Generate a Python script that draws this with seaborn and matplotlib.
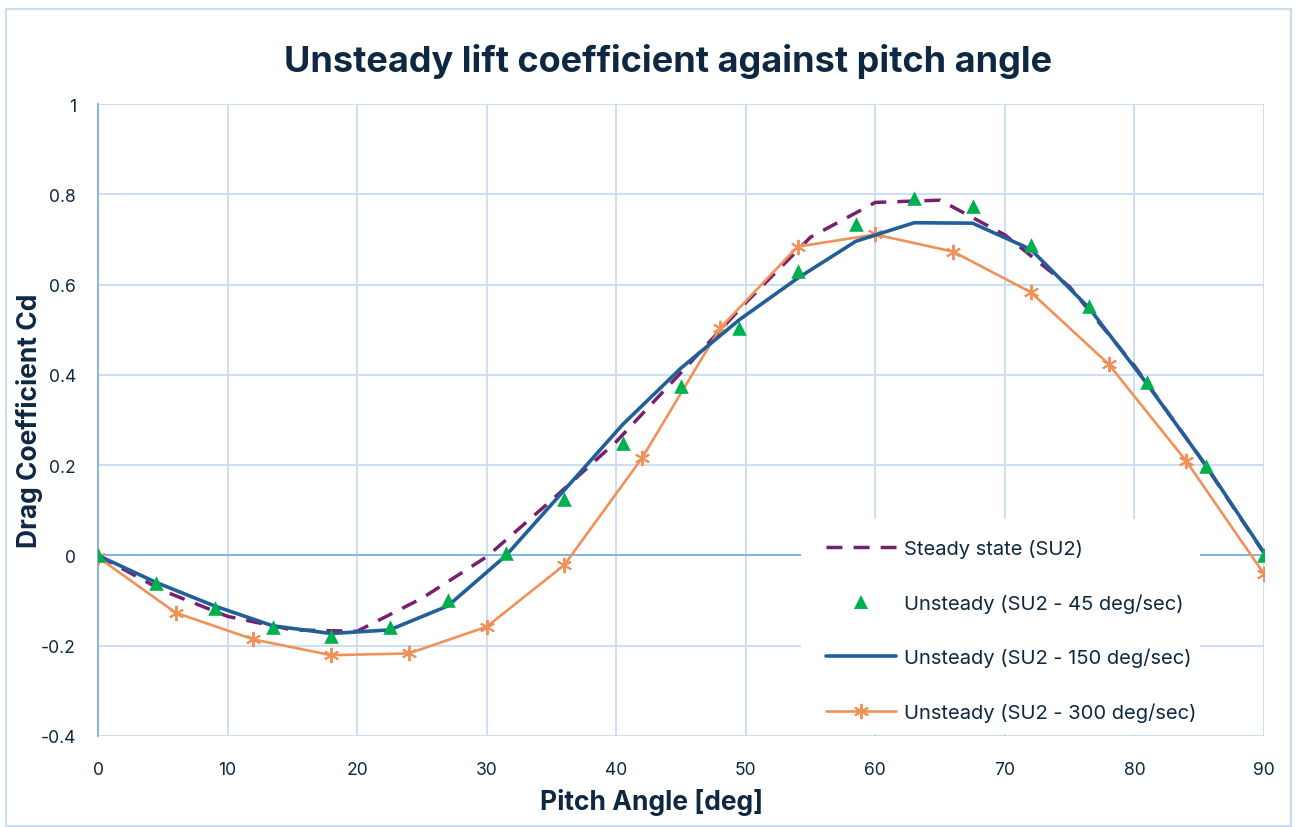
import matplotlib
matplotlib.use("Agg")
import matplotlib.pyplot as plt
from matplotlib.patches import Rectangle
from matplotlib.lines import Line2D
import seaborn as sns
import pandas as pd

# Steady-state solution (SU2)
angle_steady = [0, 5, 10, 15, 20, 25, 30, 35, 40, 45, 50, 55, 60, 65, 70, 75, 80, 85, 90]
cd_steady = [0.0, -0.078, -0.135, -0.165, -0.168, -0.095, -0.003, 0.122, 0.252, 0.405,
             0.56, 0.705, 0.782, 0.787, 0.71, 0.595, 0.42, 0.22, 0.005]

# Unsteady runs at 45 and 150 deg/sec share the same sampling
angle_45 = [0, 4.5, 9, 13.5, 18, 22.5, 27, 31.5, 36, 40.5, 45, 49.5, 54, 58.5, 63, 67.5,
            72, 76.5, 81, 85.5, 90]
cd_45 = [0.0, -0.062, -0.116, -0.158, -0.178, -0.158, -0.098, 0.005, 0.125, 0.249, 0.375,
         0.504, 0.629, 0.734, 0.792, 0.775, 0.687, 0.552, 0.384, 0.199, 0.002]

angle_150 = [0, 4.5, 9, 13.5, 18, 22.5, 27, 31.5, 36, 40.5, 45, 49.5, 54, 58.5, 63, 67.5,
             72, 76.5, 81, 85.5, 90]
cd_150 = [0.0, -0.06, -0.112, -0.156, -0.173, -0.165, -0.112, 0.0, 0.145, 0.29, 0.415,
          0.522, 0.614, 0.696, 0.737, 0.736, 0.678, 0.548, 0.379, 0.2, 0.006]

# Unsteady run at 300 deg/sec
angle_300 = [0, 6, 12, 18, 24, 30, 36, 42, 48, 54, 60, 66, 72, 78, 84, 90]
cd_300 = [-0.004, -0.127, -0.186, -0.221, -0.217, -0.158, -0.021, 0.216, 0.503, 0.684,
          0.711, 0.673, 0.583, 0.424, 0.209, -0.041]

x_ticks = [0, 10, 20, 30, 40, 50, 60, 70, 80, 90]
y_ticks = [-0.4, -0.2, 0, 0.2, 0.4, 0.6, 0.8, 1]

labels = ["Steady state (SU2)", "Unsteady (SU2 - 45 deg/sec)",
          "Unsteady (SU2 - 150 deg/sec)", "Unsteady (SU2 - 300 deg/sec)"]

TEXT = "#0E2841"
GRID = "#C9DCF2"
AXIS = "#7DB0E2"
C_STEADY = "#78206E"
C_45 = "#00B050"
C_150 = "#215F9A"
C_300 = "#F09159"

sns.set_theme(style="white")
plt.rcParams["font.family"] = ["Inter", "DejaVu Sans"]

W, H = 1295, 828
fig = plt.figure(figsize=(W / 100, H / 100), dpi=100)
fig.patch.set_facecolor("white")
ax = fig.add_axes([98 / W, 1 - 737 / H, (1264 - 98) / W, (737 - 105) / H])

df_steady = pd.DataFrame({"angle": angle_steady, "cd": cd_steady})
df_45 = pd.DataFrame({"angle": angle_45, "cd": cd_45})
df_150 = pd.DataFrame({"angle": angle_150, "cd": cd_150})
df_300 = pd.DataFrame({"angle": angle_300, "cd": cd_300})

sns.lineplot(data=df_300, x="angle", y="cd", ax=ax, color=C_300, linewidth=1.9,
             marker=(6, 2, 0), markersize=11, markeredgewidth=1.4,
             markeredgecolor=C_300, sort=False, zorder=4)
sns.lineplot(data=df_150, x="angle", y="cd", ax=ax, color=C_150, linewidth=2.6,
             sort=False, zorder=5)
steady_ax = sns.lineplot(data=df_steady, x="angle", y="cd", ax=ax, color=C_STEADY,
                         linewidth=2.5, sort=False, zorder=3)
steady_line = steady_ax.lines[-1]
steady_line.set_dashes([4.6, 3.2])
sns.scatterplot(data=df_45, x="angle", y="cd", ax=ax, color=C_45, marker="^", s=110,
                linewidth=0, zorder=6)

ax.set_xlim(0, 90)
ax.set_ylim(-0.4, 1)
ax.set_xticks(x_ticks)
ax.set_yticks(y_ticks)
ax.set_xticklabels([f"{v:g}" for v in x_ticks])
ax.set_yticklabels([f"{v:g}" for v in y_ticks])
ax.grid(True, color=GRID, linewidth=1.3)
ax.set_axisbelow(True)
for side in ["top", "right", "bottom"]:
    ax.spines[side].set_visible(False)
ax.spines["left"].set_color(AXIS)
ax.spines["left"].set_linewidth(1.3)
ax.spines["left"].set_zorder(2.5)
ax.axhline(0, color=AXIS, linewidth=1.3, zorder=1.5)
ax.tick_params(axis="both", length=0, labelsize=12.6, labelcolor=TEXT)
ax.tick_params(axis="y", pad=16)
ax.tick_params(axis="x", pad=18)

ax.set_xlabel("Pitch Angle [deg]", fontsize=19, fontweight="bold", color=TEXT)
ax.set_ylabel("Drag Coefficient Cd", fontsize=19, fontweight="bold", color=TEXT)
ax.xaxis.set_label_coords((652 - 98) / 1166, -0.083)
ax.yaxis.set_label_coords(-0.047, 0.5)

fig.text(668 / W, 1 - 72 / H, "Unsteady lift coefficient against pitch angle",
         fontsize=26, fontweight="bold", color=TEXT, ha="center", va="baseline")

# white panel behind the legend, hiding the grid
ax.add_patch(Rectangle(((801 - 98) / 1166, 2 / 632), (1200 - 801) / 1166, (737 - 520 - 2) / 632,
                       transform=ax.transAxes, facecolor="white", edgecolor="none",
                       zorder=2.8))

handles = [
    Line2D([], [], color=C_STEADY, linewidth=2.5, dashes=[4.6, 3.2]),
    Line2D([], [], color=C_45, linestyle="none", marker="^", markersize=9.5,
           markeredgewidth=0),
    Line2D([], [], color=C_150, linewidth=2.6),
    Line2D([], [], color=C_300, linewidth=1.9, marker=(6, 2, 0), markersize=11,
           markeredgewidth=1.4),
]
leg = ax.legend(handles, labels, loc="upper left",
                bbox_to_anchor=((826 - 98) / 1166, (737 - 540) / 632),
                frameon=False, fontsize=14.5, labelcolor=TEXT, handlelength=3.5,
                handletextpad=0.35, labelspacing=1.75, borderaxespad=0, borderpad=0)
leg.set_zorder(7)

# outer chart border
fig.patches.append(Rectangle((6 / W, 1 / H), (1291 - 6) / W, (827 - 10) / H,
                             transform=fig.transFigure, facecolor="none",
                             edgecolor="#C9DCF2", linewidth=1.5))

fig.savefig("out.png", dpi=100)
